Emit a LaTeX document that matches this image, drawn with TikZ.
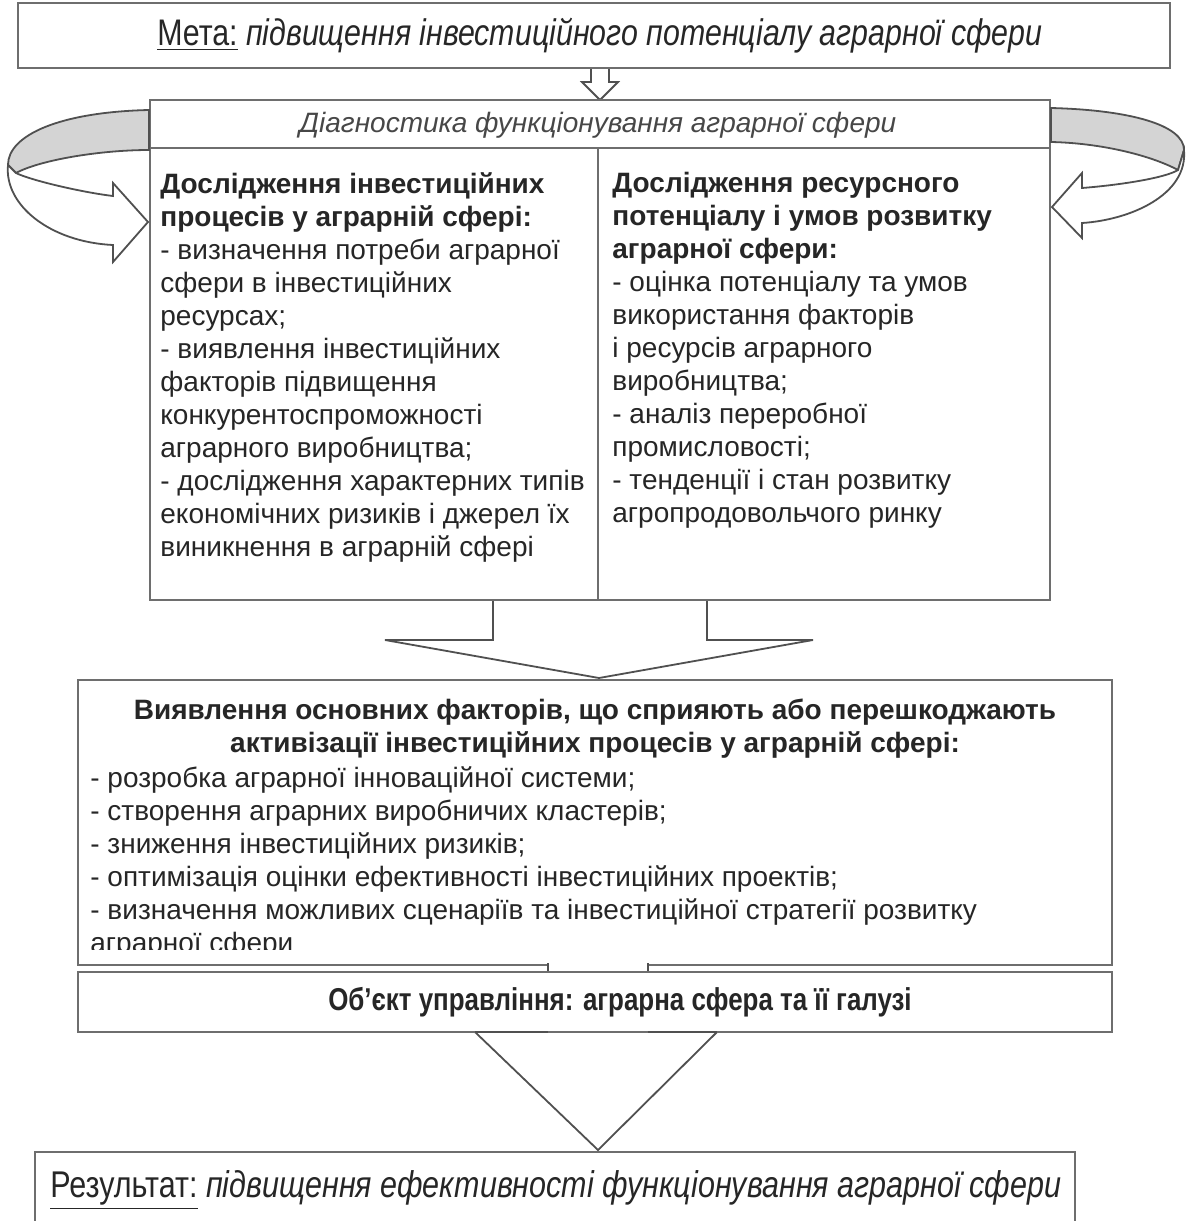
\documentclass[tikz,border=0pt]{standalone}
\usepackage{fontspec}
\setmainfont{Liberation Sans}
\newfontfamily\narrowfont[FakeStretch=0.82]{Liberation Sans}
\definecolor{linec}{HTML}{6E6E6E}
\definecolor{darkline}{HTML}{505050}
\definecolor{txtc}{HTML}{262626}
\definecolor{bandc}{HTML}{D4D4D4}
\begin{document}
\begin{tikzpicture}[x=0.5pt,y=-0.5pt,
  box/.style={draw=linec, line width=1pt, fill=white, inner sep=0pt},
  txt/.style={text=txtc, inner sep=0pt, align=left, font=\fontsize{14}{16.5}\selectfont},
  arr/.style={draw=darkline, line width=0.9pt, fill=white, line join=miter},
  band/.style={draw=darkline, line width=0.9pt, fill=bandc},
]
\useasboundingbox[fill=white] (0,0) rectangle (1191,1221);

% goal
\node[box, minimum width=576pt, minimum height=32.5pt] (meta) at (594,35.5) {};
\node[txt, font=\narrowfont\fontsize{18.5}{22}\selectfont] (metat) at (600,36)
  {\underline{Мета:} \textit{підвищення інвестиційного потенціалу аграрної сфери}};

% small arrow goal -> diagnostics
\filldraw[arr] (591,69) -- (591,82) -- (582,82) -- (600,100) -- (618,82) -- (609,82) -- (609,69);

% diagnostics header and columns
\node[box, minimum width=450pt, minimum height=24pt] (diag) at (600,124) {};
\node[txt, text=txtc!85, font=\itshape\fontsize{14}{16.5}\selectfont] (diagt) at (598,125) {Діагностика функціонування аграрної сфери};
\node[box, minimum width=224pt, minimum height=226pt] (colL) at (374,374) {};
\node[box, minimum width=226pt, minimum height=226pt] (colR) at (824,374) {};

\node[txt, anchor=north west] (colLt) at (160,172) {%
\textbf{Дослідження інвестиційних}\\
\textbf{процесів у аграрній сфері:}\\
- визначення потреби аграрної\\
сфери в інвестиційних\\
ресурсах;\\
- виявлення інвестиційних\\
факторів підвищення\\
конкурентоспроможності\\
аграрного виробництва;\\
- дослідження характерних типів\\
економічних ризиків і джерел їх\\
виникнення в аграрній сфері};

\node[txt, anchor=north west] (colRt) at (612,172) {%
\textbf{Дослідження ресурсного}\\
\textbf{потенціалу і умов розвитку}\\
\textbf{аграрної сфери:}\\
- оцінка потенціалу та умов\\
використання факторів\\
і ресурсів аграрного\\
виробництва;\\
- аналіз переробної\\
промисловості;\\
- тенденції і стан розвитку\\
агропродовольчого ринку};

% left curved arrow
\filldraw[band] (149,110) .. controls (60,112) and (8,135) .. (8,165)
  -- (16,173) .. controls (40,160) and (100,150) .. (149,150) -- cycle;
\filldraw[arr] (8,165) .. controls (4,205) and (50,242) .. (113,245)
  -- (113,262) -- (148,222) -- (113,183) -- (113,196)
  .. controls (80,192) and (30,180) .. (16,173) -- cycle;

% right curved arrow
\filldraw[band] (1051,108) .. controls (1130,110) and (1184,125) .. (1184,150)
  -- (1178,170) .. controls (1150,155) and (1100,143) .. (1051,142) -- cycle;
\filldraw[arr] (1184,150) .. controls (1188,195) and (1130,220) .. (1082,223)
  -- (1082,238) -- (1052,207) -- (1082,173) -- (1082,188)
  .. controls (1120,185) and (1165,178) .. (1178,170) -- cycle;

% big arrow columns -> factors
\filldraw[arr] (493,601) -- (493,640) -- (385,640) -- (599,678) -- (813,640) -- (707,640) -- (707,601);

% factors box
\node[box, minimum width=517pt, minimum height=142.5pt] (vyav) at (595,822.5) {};
\node[txt, align=center, anchor=north, font=\bfseries\fontsize{14}{16.5}\selectfont] (vyavh) at (595,699) {%
Виявлення основних факторів, що сприяють або перешкоджають\\
активізації інвестиційних процесів у аграрній сфері:};
\begin{scope}
\clip (78,680) rectangle (1112,949);
\node[txt, anchor=north west] (vyavt) at (90,766) {%
- розробка аграрної інноваційної системи;\\
- створення аграрних виробничих кластерів;\\
- зниження інвестиційних ризиків;\\
- оптимізація оцінки ефективності інвестиційних проектів;\\
- визначення можливих сценаріїв та інвестиційної стратегії розвитку\\
аграрної сфери};
\end{scope}

% arrow factors -> object -> result
\filldraw[arr] (548,963) -- (548,1032) -- (475,1032) -- (598,1150) -- (717,1032) -- (648,1032) -- (648,963);

% object box
\node[box, minimum width=517pt, minimum height=30pt] (obj) at (595,1002) {};
\node[txt, font=\narrowfont\bfseries\fontsize{15.8}{19}\selectfont] (objt) at (620,1002) {Об’єкт управління: аграрна сфера та її галузі};
\draw[darkline, line width=1.2pt] (475,1032) -- (548,1032) (648,1032) -- (717,1032);

% result box (cut at bottom)
\draw[linec, line width=1pt] (35,1230) -- (35,1152) -- (1075,1152) -- (1075,1230);
\node[txt, font=\narrowfont\fontsize{18.6}{22}\selectfont] (rest) at (556,1190)
  {\underline{Результат:} \textit{підвищення ефективності функціонування аграрної сфери}};
\end{tikzpicture}
\end{document}
